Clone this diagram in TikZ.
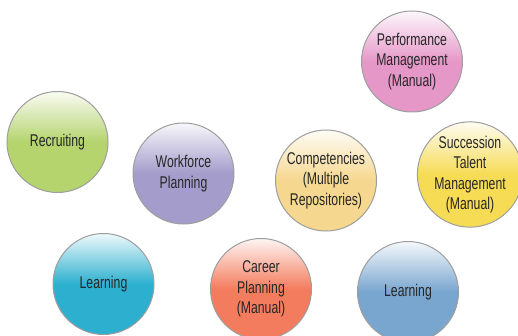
\documentclass[tikz,border=0pt]{standalone}
\usepackage{fontspec}
\setmainfont{Liberation Sans}[FakeStretch=0.72]
\begin{document}
\begin{tikzpicture}[x=1pt,y=-1pt,
  bubble/.style={circle, minimum size=101pt, inner sep=0pt, draw=black!38, line width=1pt,
    top color=#1!8!white, bottom color=#1, middle color=#1, align=center,
    font=\fontsize{17}{20.5}\selectfont, text=black!85},
]
\useasboundingbox (0,0) rectangle (518,336);
\definecolor{cgreen}{HTML}{B5D46E}
\definecolor{cpurple}{HTML}{A49CCB}
\definecolor{ccyan}{HTML}{2DB0CF}
\definecolor{corange}{HTML}{F47C5E}
\definecolor{cpink}{HTML}{E598C8}
\definecolor{cpeach}{HTML}{F6D78F}
\definecolor{cyellow}{HTML}{F6DB55}
\definecolor{cblue}{HTML}{79A6CF}
\node[bubble=cgreen] (recruit) at (57.5,142) {Recruiting};
\node[bubble=cpurple] (workforce) at (183.5,173.5) {Workforce\\Planning};
\node[bubble=ccyan] (learn1) at (103.5,284) {Learning};
\node[bubble=corange] (career) at (261,289) {Career\\Planning\\(Manual)};
\node[bubble=cpink] (perf) at (412,61.5) {Performance\\Management\\(Manual)};
\node[bubble=cpeach] (comp) at (326,180.5) {Competencies\\(Multiple\\Repositories)};
\node[bubble=cyellow] (succ) at (470,174.5) {Succession\\Talent\\Management\\(Manual)};
\node[bubble=cblue] (learn2) at (408,292) {Learning};
\end{tikzpicture}
\end{document}
